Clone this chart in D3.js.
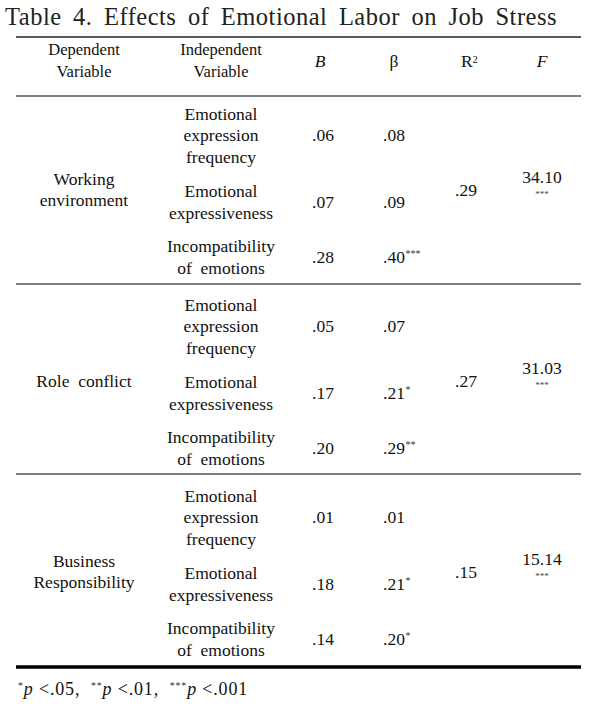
<!DOCTYPE html>
<html>
<head>
<meta charset="utf-8">
<script src="https://cdn.jsdelivr.net/npm/d3@7"></script>
<style>
  body { margin: 0; background: #fff; }
</style>
</head>
<body>
<div id="app"></div>
<script>
// table values
const columns = ['dep', 'ind', 'B', 'beta', 'R2', 'F']
const dependents = [['Working', 'environment'], ['Role  conflict'], ['Business', 'Responsibility']]
const independents = [['Emotional', 'expression', 'frequency'], ['Emotional', 'expressiveness'], ['Incompatibility', 'of  emotions']]
const bValues = [['.06', '.07', '.28'], ['.05', '.17', '.20'], ['.01', '.18', '.14']]
const betaValues = [['.08', '.09', '.40'], ['.07', '.21', '.29'], ['.01', '.21', '.20']]
const betaSig = [['', '', '***'], ['', '*', '**'], ['', '*', '*']]
const r2Values = ['.29', '.27', '.15']
const fValues = ['34.10', '31.03', '15.14']
const fSig = ['***', '***', '***']
const notes = [['*', '.05'], ['**', '.01'], ['***', '.001']]

const W = 601, H = 710
const FONT = '"Liberation Serif", Tinos, "Times New Roman", serif'
const svg = d3.select('#app').append('svg')
  .attr('width', W).attr('height', H)
  .style('font-family', FONT)
  .style('fill', '#111')

// column centres
let x = d3.scaleOrdinal().domain(columns).range([84, 221, 323, 394, 466, 542])
// groups (dependent variables)
let groupY = d3.scaleBand().domain(d3.range(dependents.length)).range([98, 671])
// rows inside a group, offset from group top
let rowY = d3.scaleOrdinal().domain(d3.range(3)).range([37, 104, 159])
const lineH = 21.5

// title, word spacing stretched to the table width
let title = svg.append('text')
  .attr('x', 5).attr('y', 25)
  .style('font-size', '24.5px')
  .style('fill', '#222')
  .style('letter-spacing', '0.5px')
  .text('Table 4. Effects of Emotional Labor on Job Stress')
let tw = title.node().getComputedTextLength()
title.style('word-spacing', Math.max(0, (552 - tw) / 8) + 'px')

// rules
const rule = (y, w, c) => svg.append('line')
  .attr('x1', 16).attr('x2', 581).attr('y1', y).attr('y2', y)
  .style('stroke', c).style('stroke-width', w)
rule(37, 1.5, '#222')
rule(groupY(0) - 2, 1.3, '#555')
rule(groupY(1) - 5, 1.3, '#555')
rule(groupY(2) - 6, 1.3, '#555')
rule(groupY.range()[1] - 4, 3.5, '#000')

function multiline (g, lines, cx, cy, size, lh) {
  let t = g.append('text')
    .attr('text-anchor', 'middle')
    .style('font-size', size + 'px')
  lines.forEach((l, i) => {
    t.append('tspan')
      .attr('x', cx)
      .attr('y', cy + (i - (lines.length - 1) / 2) * (lh || lineH))
      .attr('dy', '0.35em')
      .style('white-space', 'pre')
      .text(l)
  })
  return t
}

// number with superscript stars, number centred in column
function valueWithSig (g, val, sig, cx, cy) {
  let t = g.append('text')
    .attr('x', cx).attr('y', cy).attr('dy', '0.35em')
    .attr('text-anchor', 'middle')
    .style('font-size', '17.5px')
    .text(val)
  if (sig) {
    let w = t.node().getComputedTextLength()
    g.append('text')
      .attr('x', cx + w / 2 + 0.5).attr('y', cy - 0.5)
      .style('font-size', '10px')
      .style('fill', '#333')
      .text(sig)
  }
}

// header
let head = svg.append('g')
const hy = 60
multiline(head, ['Dependent', 'Variable'], x('dep'), hy, 16.5, 22)
multiline(head, ['Independent', 'Variable'], x('ind'), hy, 16.5, 22)
head.append('text').attr('x', x('B') - 3).attr('y', hy + 1).attr('dy', '0.35em')
  .attr('text-anchor', 'middle').style('font-size', '17.5px').style('font-style', 'italic').text('B')
head.append('text').attr('x', x('beta')).attr('y', hy + 1).attr('dy', '0.35em')
  .attr('text-anchor', 'middle').style('font-size', '17.5px').text('β')
let r2 = head.append('text').attr('x', x('R2') - 5).attr('y', hy + 1).attr('dy', '0.35em')
  .style('font-size', '17.5px')
r2.append('tspan').text('R')
r2.append('tspan').attr('dy', '-0.45em').style('font-size', '10px').text('2')
head.append('text').attr('x', x('F')).attr('y', hy + 1).attr('dy', '0.35em')
  .attr('text-anchor', 'middle').style('font-size', '17.5px').style('font-style', 'italic').text('F')

// body
dependents.forEach((dep, gi) => {
  let g = svg.append('g').attr('class', 'group')
  let top = groupY(gi)
  let mid = top + (rowY(0) + rowY(2)) / 2
  multiline(g, dep, x('dep'), mid - 6.5, 17.5)
  independents.forEach((ind, ri) => {
    let cy = top + rowY(ri)
    multiline(g, ind, x('ind'), cy, 17.5)
    valueWithSig(g, bValues[gi][ri], '', x('B'), cy)
    valueWithSig(g, betaValues[gi][ri], betaSig[gi][ri], x('beta'), cy)
  })
  g.append('text').attr('x', x('R2')).attr('y', mid - 6.5).attr('dy', '0.35em')
    .attr('text-anchor', 'middle').style('font-size', '17.5px').text(r2Values[gi])
  g.append('text').attr('x', x('F')).attr('y', mid - 19.5).attr('dy', '0.35em')
    .attr('text-anchor', 'middle').style('font-size', '17.5px').text(fValues[gi])
  g.append('text').attr('x', x('F')).attr('y', mid + 0.5)
    .attr('text-anchor', 'middle').style('font-size', '9px').style('fill', '#444').text(fSig[gi])
})

// footnote, spread out to the reference width
let fn = svg.append('text').attr('x', 18).attr('y', 695).style('font-size', '18px')
notes.forEach((n, i) => {
  if (i) fn.append('tspan').attr('y', 695).style('white-space', 'pre').text(',  ')
  fn.append('tspan').attr('y', 689).style('font-size', '10px').style('fill', '#333').text(n[0])
  fn.append('tspan').attr('y', 695).style('font-style', 'italic').text('p')
  fn.append('tspan').attr('y', 695).style('white-space', 'pre').text(' <' + n[1])
})
let fw = fn.node().getComputedTextLength()
let nChars = fn.text().length
fn.style('letter-spacing', Math.max(0, (230 - fw) / nChars) + 'px')
</script>
</body>
</html>
